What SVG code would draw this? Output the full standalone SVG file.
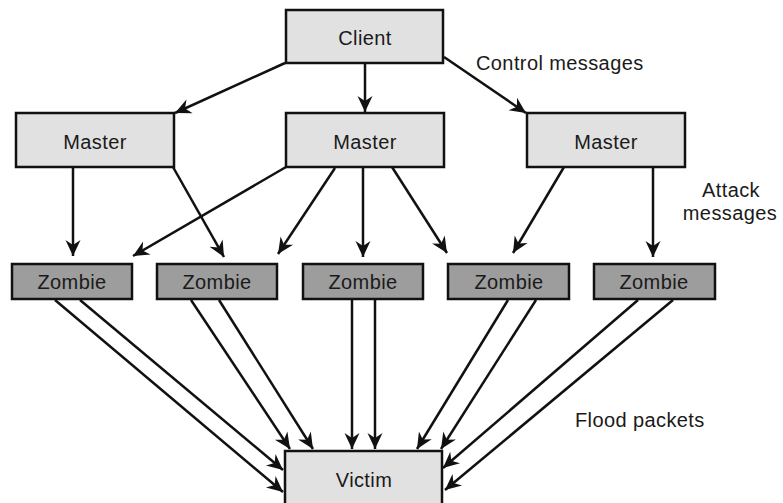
<svg xmlns="http://www.w3.org/2000/svg" width="783" height="503" viewBox="0 0 783 503">
<style>
.box{fill:#e1e1e1;stroke:#111;stroke-width:2.5}
.zb{fill:#9d9d9d;stroke:#111;stroke-width:2.5}
text{font-family:"Liberation Sans",Arial,sans-serif;font-size:20px;fill:#1a1a1a;letter-spacing:0.4px}
.c{text-anchor:middle}
.ln{stroke:#111;stroke-width:2.5;fill:none;marker-end:url(#ah)}
</style>
<defs>
<marker id="ah" viewBox="-17 -8 18 16" refX="0" refY="0" markerWidth="18" markerHeight="16" markerUnits="userSpaceOnUse" orient="auto">
<path d="M0,0 L-16,-7.5 L-11,0 L-16,7.5 Z" fill="#111"/>
</marker>
</defs>
<rect width="783" height="503" fill="#fff"/>
<g id="connectors">
<line class="ln" x1="285" y1="63" x2="175" y2="113"/>
<line class="ln" x1="365" y1="63" x2="365" y2="112"/>
<line class="ln" x1="444" y1="57" x2="526" y2="113"/>
<line class="ln" x1="73" y1="167" x2="73" y2="256"/>
<line class="ln" x1="173" y1="167" x2="224" y2="257"/>
<line class="ln" x1="286" y1="167" x2="133" y2="256"/>
<line class="ln" x1="335" y1="168" x2="278" y2="254"/>
<line class="ln" x1="363" y1="167" x2="363" y2="257"/>
<line class="ln" x1="392" y1="167" x2="447" y2="253"/>
<line class="ln" x1="564" y1="167" x2="513" y2="253"/>
<line class="ln" x1="653" y1="167" x2="653" y2="257"/>
<line class="ln" x1="55" y1="300" x2="283" y2="492"/>
<line class="ln" x1="80" y1="300" x2="283" y2="470"/>
<line class="ln" x1="191" y1="300" x2="290" y2="449"/>
<line class="ln" x1="219" y1="300" x2="313" y2="449"/>
<line class="ln" x1="352" y1="300" x2="352" y2="449"/>
<line class="ln" x1="375" y1="300" x2="375" y2="449"/>
<line class="ln" x1="508" y1="300" x2="417" y2="449"/>
<line class="ln" x1="536" y1="300" x2="441" y2="449"/>
<line class="ln" x1="638" y1="300" x2="443" y2="468"/>
<line class="ln" x1="673" y1="300" x2="445" y2="490"/>
</g>
<g id="client"><rect class="box" x="286" y="10" width="157" height="53"/><text class="c" x="365" y="45">Client</text></g>
<g id="master1"><rect class="box" x="16" y="113" width="158" height="54"/><text class="c" x="95" y="149">Master</text></g>
<g id="master2"><rect class="box" x="286" y="113" width="158" height="54"/><text class="c" x="365" y="149">Master</text></g>
<g id="master3"><rect class="box" x="527" y="113" width="158" height="54"/><text class="c" x="606" y="149">Master</text></g>
<g id="zombie1"><rect class="zb" x="12" y="264" width="120" height="35"/><text class="c" x="72" y="289">Zombie</text></g>
<g id="zombie2"><rect class="zb" x="157" y="264" width="120" height="35"/><text class="c" x="217" y="289">Zombie</text></g>
<g id="zombie3"><rect class="zb" x="303" y="264" width="120" height="35"/><text class="c" x="363" y="289">Zombie</text></g>
<g id="zombie4"><rect class="zb" x="448" y="264" width="121" height="35"/><text class="c" x="509" y="289">Zombie</text></g>
<g id="zombie5"><rect class="zb" x="594" y="264" width="121" height="35"/><text class="c" x="654" y="289">Zombie</text></g>
<g id="victim"><rect class="box" x="285" y="451" width="157" height="60"/><text class="c" x="364" y="487">Victim</text></g>
<g id="labels">
<text x="476" y="70">Control messages</text>
<text class="c" x="731" y="197">Attack</text>
<text class="c" x="730" y="220">messages</text>
<text x="575" y="427">Flood packets</text>
</g>
</svg>
